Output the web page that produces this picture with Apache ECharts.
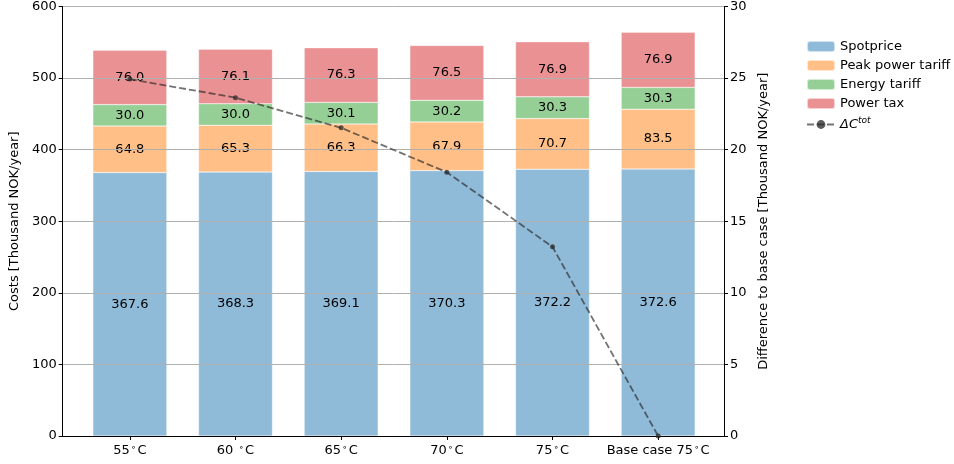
<!DOCTYPE html>
<html>
<head>
<meta charset="utf-8">
<script src="https://cdn.jsdelivr.net/npm/echarts@6/dist/echarts.min.js"></script>
<style>
  html, body { margin: 0; padding: 0; background: #fff; }
  #chart { width: 954px; height: 464px; }
</style>
</head>
<body>
<div id="chart"></div>
<script>
// categories: temperature cases
const categories = ['55', '60 ', '65', '70', '75', 'Base case 75']
// cost components [Thousand NOK/year]
const spotprice = [367.6, 368.3, 369.1, 370.3, 372.2, 372.6]
const peakTariff = [64.8, 65.3, 66.3, 67.9, 70.7, 83.5]
const energyTariff = [30.0, 30.0, 30.1, 30.2, 30.3, 30.3]
const powerTax = [76.0, 76.1, 76.3, 76.5, 76.9, 76.9]
// difference to base case (right axis)
const deltaCost = [24.9, 23.6, 21.5, 18.4, 13.2, 0]

const font = 'DejaVu Sans'
const chart = echarts.init(document.getElementById('chart'))

const barLabel = {
  show: true,
  position: 'inside',
  color: '#000',
  fontFamily: font,
  fontSize: 13,
  formatter: p => p.value.toFixed(1)
}

function barSeries(name, data, color) {
  return {
    name: name,
    type: 'bar',
    stack: 'cost',
    xAxisIndex: 1,
    yAxisIndex: 2,
    data: data,
    barWidth: '70%',
    itemStyle: { color: color, borderColor: 'rgba(255,255,255,0.6)', borderWidth: 0.5 },
    label: barLabel,
    emphasis: { disabled: true }
  }
}

const tickLabel = { color: '#000', fontFamily: font, fontSize: 13, margin: 6 }
const axisBlack = { show: true, lineStyle: { color: '#000' } }

const option = {
  animation: false,
  textStyle: { fontFamily: font },
  grid: [
    // outer frame: spans the full plot area
    { left: 62, right: 230, top: 6, bottom: 28 },
    // inner band for categories (matplotlib keeps a margin at both ends)
    { left: 77, right: 243, top: 6, bottom: 28 }
  ],
  legend: {
    orient: 'vertical',
    left: 801,
    top: 35,
    itemWidth: 28,
    itemHeight: 11,
    itemGap: 6,
    textStyle: {
      fontFamily: font, fontSize: 13, color: '#000',
      rich: {
        d: { fontFamily: font, fontSize: 13, fontStyle: 'italic', color: '#000' },
        s: { fontFamily: font, fontSize: 9, fontStyle: 'italic', color: '#000', verticalAlign: 'top', padding: [0, 0, 8, 0] }
      }
    },
    formatter: name => name === 'delta' ? '{d|ΔC}{s|tot}' : name,
    data: [
      { name: 'Spotprice' },
      { name: 'Peak power tariff' },
      { name: 'Energy tariff' },
      { name: 'Power tax' },
      { name: 'delta' }
    ]
  },
  xAxis: [
    // bottom and top spines of the frame
    { type: 'category', gridIndex: 0, data: categories, position: 'bottom', z: 11,
      axisLine: axisBlack, axisTick: { show: false }, axisLabel: { show: false } },
    {
      type: 'category',
      gridIndex: 1,
      data: categories,
      axisLine: { show: false },
      axisTick: { show: true, alignWithLabel: true, length: 4, lineStyle: { color: '#000' } },
      axisLabel: {
        color: '#000', fontFamily: font, fontSize: 13, margin: 7, interval: 0,
        formatter: v => v + '{deg|∘}C',
        rich: { deg: { fontSize: 9, verticalAlign: 'top', padding: [0, 1, 6, 1], color: '#000' } }
      }
    },
    { type: 'category', gridIndex: 0, data: categories, position: 'top', z: 11,
      axisLine: axisBlack, axisTick: { show: false }, axisLabel: { show: false } }
  ],
  yAxis: [
    {
      type: 'value',
      gridIndex: 0,
      min: 0, max: 600, interval: 100,
      name: 'Costs [Thousand NOK/year]',
      nameLocation: 'middle',
      nameGap: 40,
      nameTextStyle: { color: '#000', fontFamily: font, fontSize: 13 },
      z: 10,
      axisLine: axisBlack,
      axisTick: { show: true, length: 4, lineStyle: { color: '#000' } },
      axisLabel: tickLabel,
      splitLine: { show: true, lineStyle: { color: '#b0b0b0', width: 1 } }
    },
    {
      type: 'value',
      gridIndex: 0,
      min: 0, max: 30, interval: 5,
      position: 'right',
      name: 'Difference to base case [Thousand NOK/year]',
      nameLocation: 'middle',
      nameGap: 32,
      nameRotate: 90,
      z: 11,
      nameTextStyle: { color: '#000', fontFamily: font, fontSize: 13 },
      axisLine: axisBlack,
      axisTick: { show: true, length: 4, lineStyle: { color: '#000' } },
      axisLabel: tickLabel,
      splitLine: { show: false }
    },
    { type: 'value', gridIndex: 1, min: 0, max: 600, show: false },
    { type: 'value', gridIndex: 1, min: 0, max: 30, show: false }
  ],
  series: [
    barSeries('Spotprice', spotprice, '#8fbbd9'),
    barSeries('Peak power tariff', peakTariff, '#ffbf86'),
    barSeries('Energy tariff', energyTariff, '#95cf95'),
    barSeries('Power tax', powerTax, '#ea9293'),
    {
      name: 'delta',
      type: 'line',
      xAxisIndex: 1,
      yAxisIndex: 3,
      data: deltaCost,
      z: 20,
      symbol: 'circle',
      symbolSize: 5,
      itemStyle: { color: 'rgba(40,40,40,0.75)' },
      lineStyle: { color: 'rgba(40,40,40,0.65)', width: 1.8, type: [7, 3] },
      emphasis: { disabled: true }
    }
  ]
}

chart.setOption(option)
</script>
</body>
</html>
